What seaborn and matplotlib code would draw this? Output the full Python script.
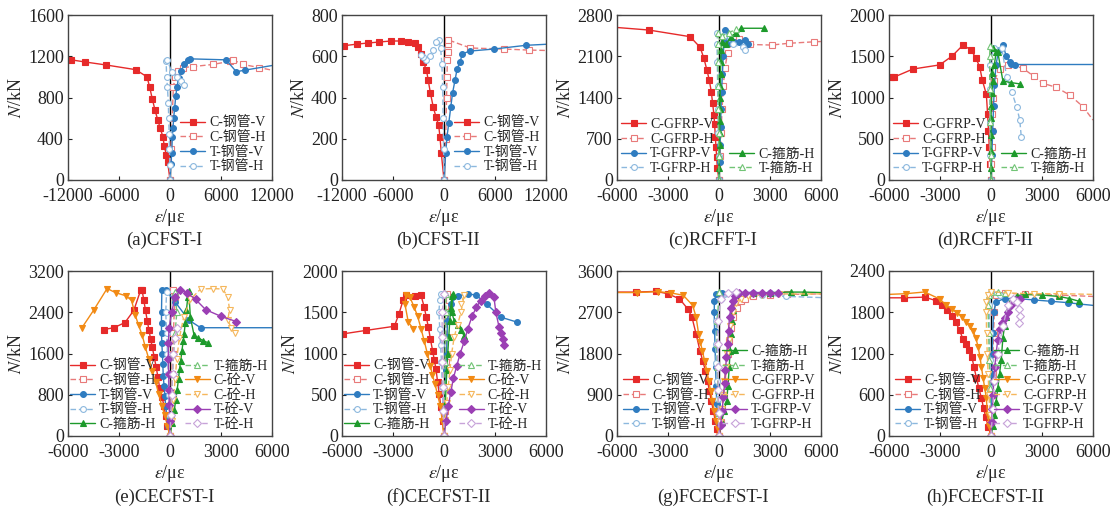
import numpy as np
import matplotlib
matplotlib.use("Agg")
import matplotlib.pyplot as plt
import seaborn as sns

# ---------------- data (strain in microstrain, load in kN) ----------------
# (a) CFST-I
a_cv_x = [0, -270, -430, -670, -820, -1140, -1450, -1770, -2080, -2390, -2700, -4040, -7490, -10040, -11600, -12000]
a_cv_y = [0, 170, 245, 325, 415, 500, 585, 680, 785, 900, 1000, 1070, 1115, 1145, 1165, 1170]
a_ch_x = [0, 100, 250, 400, 600, 900, 1500, 2700, 5000, 7000, 7400, 8600, 10500, 12000]
a_ch_y = [0, 300, 600, 900, 1000, 1060, 1090, 1100, 1120, 1150, 1165, 1120, 1090, 1065]
a_tv_x = [0, 120, 200, 275, 350, 430, 550, 670, 820, 1020, 1300, 1700, 2100, 2300, 6600, 7800, 8800, 12000]
a_tv_y = [0, 160, 260, 420, 500, 600, 700, 810, 900, 990, 1060, 1120, 1160, 1175, 1165, 1050, 1065, 1110]
a_th_x = [0, -30, -60, -100, -150, -200, -300, -400, -450, -300, 200, 800, 1300, 1700]
a_th_y = [0, 150, 300, 450, 600, 750, 900, 1000, 1150, 1160, 1050, 1000, 960, 920]

# (b) CFST-II
b_cv_x = [0, -317, -476, -635, -950, -1270, -1590, -1865, -2060, -2460, -2660, -3055, -3450, -4250, -5040, -6230, -7620, -9000, -10200, -11790, -12000]
b_cv_y = [0, 130, 210, 267, 307, 355, 420, 485, 533, 573, 611, 646, 662, 670, 674, 674, 669, 664, 659, 651, 650]
b_ch_x = [0, 200, 300, 350, 400, 450, 500, 450, 3100, 7000, 10000, 12000]
b_ch_y = [0, 200, 400, 500, 580, 620, 660, 680, 640, 635, 630, 628]
b_tv_x = [0, 200, 350, 560, 800, 1000, 1300, 1550, 1900, 2140, 3000, 5870, 9640, 12000]
b_tv_y = [0, 130, 210, 275, 355, 420, 485, 540, 573, 611, 625, 635, 653, 658]
b_th_x = [0, -50, -100, -150, -250, -400, -600, -900, -1300, -1700, -2100, -2500, -2700]
b_th_y = [0, 150, 300, 450, 560, 640, 678, 668, 630, 600, 582, 595, 605]

# (c) RCFFT-I
c_cv_x = [0, -99, -138, -178, -217, -257, -296, -375, -455, -573, -710, -890, -1107, -1700, -4130, -6000]
c_cv_y = [0, 198, 396, 566, 735, 945, 1103, 1301, 1499, 1697, 1866, 2065, 2251, 2432, 2545, 2588]
c_ch_x = [0, 60, 120, 180, 250, 350, 500, 800, 1200, 1800, 3100, 4100, 5600, 6000]
c_ch_y = [0, 400, 800, 1200, 1600, 1900, 2150, 2350, 2400, 2300, 2290, 2320, 2345, 2350]
c_tv_x = [0, 30, 60, 90, 120, 150, 200, 250, 300, 350, 400, 600, 900, 1200, 1500, 1700]
c_tv_y = [0, 300, 600, 900, 1200, 1500, 1800, 2100, 2400, 2540, 2500, 2320, 2340, 2350, 2370, 2300]
c_th_x = [0, -20, -40, -60, -80, -100, -120, -100, 300, 800, 1400, 1500]
c_th_y = [0, 400, 800, 1200, 1600, 2000, 2300, 2500, 2450, 2300, 2250, 2200]
c_gc_x = [0, 10, 20, 30, 40, 50, 60, 70, 80, 90, 100, 120, 200, 400, 700, 1000, 1300, 2650]
c_gc_y = [0, 200, 400, 600, 800, 1000, 1200, 1400, 1600, 1800, 2000, 2200, 2350, 2300, 2430, 2500, 2575, 2575]
c_gt_x = [0, -10, -20, -30, -40, -50, -60, -40, 200, 600, 1000]
c_gt_y = [0, 400, 800, 1200, 1600, 2000, 2300, 2500, 2450, 2500, 2560]

# (d) RCFFT-II
d_cv_x = [0, -50, -100, -150, -200, -275, -510, -670, -900, -1160, -1650, -2300, -3020, -4590, -5725, -5900, -6000]
d_cv_y = [0, 200, 400, 600, 800, 1040, 1210, 1375, 1480, 1575, 1635, 1500, 1395, 1345, 1245, 1244, 1240]
d_ch_x = [0, 20, 40, 60, 80, 100, 200, 500, 1000, 1860, 2500, 3060, 3840, 4630, 5410, 6000]
d_ch_y = [0, 200, 400, 600, 800, 1000, 1200, 1350, 1400, 1357, 1260, 1172, 1123, 1030, 889, 727]
d_tv_x = [0, 50, 100, 150, 200, 300, 450, 700, 900, 1100, 1200, 1400, 6000]
d_tv_y = [0, 300, 600, 900, 1150, 1400, 1580, 1636, 1500, 1430, 1410, 1400, 1400]
d_th_x = [0, -30, -50, -70, -60, 150, 630, 920, 1220, 1510, 1690, 1780]
d_th_y = [0, 300, 700, 1100, 1400, 1600, 1600, 1250, 1070, 885, 730, 525]
d_gc_x = [0, 0, 0, 0, 0, 20, 50, 100, 50, 200, 300, 100, 400, 700, 1200, 1700]
d_gc_y = [0, 150, 350, 550, 750, 900, 1050, 1200, 1300, 1400, 1550, 1600, 1550, 1200, 1180, 1165]
d_gt_x = [0, -20, -40, -60, -80, -60]
d_gt_y = [0, 300, 700, 1100, 1500, 1620]

# (e) CECFST-I
e_cv_x = [0, -150, -260, -350, -480, -610, -710, -810, -925, -1040, -1140, -1240, -1340, -1440, -1540, -1640, -1730, -2130, -2650, -3300, -3900]
e_cv_y = [0, 200, 390, 585, 760, 940, 1140, 1330, 1525, 1720, 1880, 2060, 2240, 2435, 2630, 2825, 2825, 2435, 2200, 2100, 2065]
e_ch_x = [0, 30, 60, 100, 150, 200, 250, 300, 200]
e_ch_y = [0, 400, 800, 1200, 1600, 2000, 2400, 2700, 2825]
e_tv_x = [0, -100, -180, -260, -300, -350, -400, -420, -450, -480, -500, -500, -500, -480, -250, 300, 1100, 1800, 6000]
e_tv_y = [0, 200, 400, 585, 780, 975, 1170, 1400, 1600, 1800, 2000, 2200, 2400, 2825, 2830, 2600, 2250, 2100, 2100]
e_th_x = [0, -30, -60, -100, -150, -200, -250, -200]
e_th_y = [0, 400, 800, 1200, 1600, 2000, 2400, 2800]
e_gc_x = [0, 120, 250, 340, 420, 500, 560, 630, 700, 780, 830, 900, 970, 1050, 1100, 1200, 1420, 1670, 1950, 2260]
e_gc_y = [0, 250, 500, 700, 900, 1100, 1300, 1460, 1650, 1850, 1980, 2200, 2450, 2700, 2820, 2300, 1950, 1900, 1850, 1805]
e_gt_x = [0, 50, 100, 150, 200, 300, 400, 300]
e_gt_y = [0, 400, 800, 1200, 1600, 2000, 2400, 2800]
e_sv_x = [0, -150, -300, -490, -650, -850, -1040, -1250, -1450, -1630, -1850, -2050, -2260, -2600, -3200, -3700, -4500, -5180]
e_sv_y = [0, 200, 400, 585, 810, 1040, 1265, 1500, 1720, 1950, 2150, 2350, 2630, 2720, 2780, 2860, 2435, 2100]
e_sh_x = [0, 100, 200, 300, 400, 550, 800, 1200, 1800, 2500, 3100, 3400, 3500, 3400, 3600, 3800]
e_sh_y = [0, 300, 700, 1100, 1500, 1900, 2300, 2650, 2850, 2860, 2850, 2700, 2450, 2250, 2100, 2000]
e_tsv_x = [0, -20, -40, -60, -80, -100, -100, -50, 100, 300, 600, 1000, 1500, 2100, 3000, 3900]
e_tsv_y = [0, 300, 600, 900, 1200, 1500, 1800, 2100, 2400, 2700, 2825, 2780, 2650, 2450, 2320, 2220]
e_tsh_x = [0, 50, 100, 150, 200, 300, 400]
e_tsh_y = [0, 400, 800, 1200, 1600, 1900, 2100]

# (f) CECFST-II
f_cv_x = [0, -80, -180, -280, -380, -470, -570, -670, -800, -920, -1040, -1160, -1350, -1700, -2240, -2400, -2650, -2920, -4590, -5960]
f_cv_y = [0, 180, 350, 510, 660, 810, 920, 1035, 1175, 1320, 1440, 1560, 1704, 1700, 1704, 1650, 1480, 1330, 1280, 1237]
f_ch_x = [0, 40, 80, 120, 160, 200, 260, 300, 200]
f_ch_y = [0, 300, 600, 900, 1200, 1400, 1500, 1650, 1720]
f_tv_x = [0, 30, 60, 90, 120, 150, 180, 200, 400, 800, 1400, 1880, 2500, 3350, 4300]
f_tv_y = [0, 200, 400, 600, 800, 1000, 1200, 1400, 1600, 1700, 1720, 1710, 1600, 1440, 1380]
f_th_x = [0, -50, -100, -150, -200, -250, -300, -250, -150]
f_th_y = [0, 300, 600, 900, 1100, 1300, 1500, 1650, 1720]
f_gc_x = [0, 40, 80, 120, 170, 220, 280, 340, 400, 460, 500, 450, 600, 800, 1000, 1200]
f_gc_y = [0, 200, 400, 600, 800, 1000, 1200, 1400, 1550, 1700, 1720, 1500, 1400, 1350, 1280, 1210]
f_gt_x = [0, 20, 40, 60, 80, 100, 120]
f_gt_y = [0, 300, 600, 900, 1200, 1500, 1720]
f_sv_x = [0, -100, -220, -380, -530, -680, -800, -980, -1160, -1350, -1550, -1750, -2000, -2240, -2300, -2100, -1800]
f_sv_y = [0, 180, 365, 500, 630, 740, 850, 1000, 1150, 1300, 1450, 1560, 1680, 1704, 1600, 1380, 1300]
f_sh_x = [0, 80, 160, 250, 350, 450, 600, 800, 1000, 1180, 1000]
f_sh_y = [0, 200, 400, 600, 800, 1000, 1200, 1350, 1500, 1704, 1600]
f_tsv_x = [0, 120, 250, 400, 550, 750, 950, 1200, 1400, 1650, 1900, 2150, 2400, 2650, 2940, 3050, 3240, 3350, 3450, 3530]
f_tsv_y = [0, 180, 360, 530, 700, 850, 1000, 1150, 1300, 1450, 1560, 1640, 1700, 1728, 1680, 1500, 1320, 1245, 1170, 1100]
f_tsh_x = [0, -30, -60, -90, -120, -100, 0]
f_tsh_y = [0, 300, 600, 900, 1200, 1500, 1720]

# (g) FCECFST-I
g_cv_x = [0, -100, -220, -330, -450, -570, -670, -800, -960, -1120, -1350, -1590, -1840, -2330, -3020, -3700, -4880, -6000]
g_cv_y = [0, 150, 330, 550, 770, 990, 1205, 1425, 1645, 1860, 2230, 2590, 2775, 2995, 3105, 3155, 3140, 3140]
g_ch_x = [0, 100, 200, 280, 360, 450, 520, 600, 700, 850, 1050, 1300, 1500, 2000, 3000, 4000, 6000]
g_ch_y = [0, 300, 600, 900, 1200, 1500, 1800, 2080, 2350, 2600, 2800, 2950, 3000, 3050, 3080, 3090, 3100]
g_tv_x = [0, -80, -130, -170, -200, -230, -260, -280, -270, -150, 200, 1000, 2000, 3000]
g_tv_y = [0, 300, 700, 1100, 1500, 1900, 2300, 2700, 2950, 3100, 3130, 3130, 3130, 3120]
g_th_x = [0, -40, -80, -120, -160, -200, -150, 100, 1000, 2500, 3940, 6000]
g_th_y = [0, 400, 800, 1200, 1600, 2000, 2500, 3000, 3100, 3080, 3046, 3020]
g_gc_x = [0, 150, 300, 450, 530, 600, 650, 700, 760, 800, 900, 1200, 2000, 3000, 4230, 5020, 6000]
g_gc_y = [0, 300, 550, 770, 1100, 1500, 1850, 2230, 2500, 2740, 2950, 3080, 3120, 3130, 3140, 3140, 3130]
g_gt_x = [0, -30, -60, -90, -120, -100, 0]
g_gt_y = [0, 500, 1000, 1500, 2000, 2500, 3140]
g_fv_x = [0, -80, -170, -280, -390, -500, -600, -720, -850, -980, -1100, -1200, -1350, -1550, -2100, -2800, -3600, -4800, -6000]
g_fv_y = [0, 150, 330, 550, 770, 990, 1205, 1425, 1645, 1860, 2050, 2230, 2600, 2850, 3070, 3120, 3150, 3130, 3130]
g_fh_x = [0, 80, 160, 240, 320, 400, 480, 560, 650, 800, 1000, 1300, 1700, 2500, 3500, 6000]
g_fh_y = [0, 300, 600, 900, 1200, 1500, 1800, 2100, 2400, 2700, 2900, 3000, 3050, 3080, 3100, 3100]
g_tfv_x = [0, 100, 180, 260, 330, 380, 440, 500, 560, 620, 700, 800, 950, 1150, 1500, 2000, 2500, 3000, 3450]
g_tfv_y = [0, 250, 550, 850, 1150, 1430, 1720, 2010, 2300, 2590, 2800, 2950, 3060, 3120, 3130, 3130, 3130, 3125, 3120]
g_tfh_x = [0, -20, -40, -60, -80, -60, 100, 500, 1000]
g_tfh_y = [0, 500, 1000, 1500, 2000, 2500, 3000, 3120, 3140]

# (h) FCECFST-II
h_cv_x = [0, -150, -310, -440, -570, -720, -860, -1000, -1120, -1300, -1450, -1650, -1850, -2080, -2300, -2570, -2900, -3250, -3900, -5140, -6000]
h_cv_y = [0, 130, 270, 410, 560, 700, 850, 1000, 1145, 1250, 1340, 1410, 1540, 1655, 1740, 1830, 1900, 1970, 2020, 2010, 2010]
h_ch_x = [0, 30, 60, 90, 120, 150, 200, 300, 800, 2000, 4000, 6000]
h_ch_y = [0, 300, 600, 900, 1200, 1500, 1800, 2050, 2080, 2060, 2050, 2030]
h_tv_x = [0, 20, 40, 60, 80, 100, 150, 300, 800, 1500, 2500, 3500, 4500, 5200, 6000]
h_tv_y = [0, 300, 600, 900, 1200, 1500, 1800, 1950, 2000, 2000, 1980, 1960, 1940, 1920, 1900]
h_th_x = [0, -20, -40, -60, -80, -100, 0, 500]
h_th_y = [0, 300, 700, 1100, 1500, 1900, 2100, 2050]
h_gc_x = [0, 100, 200, 300, 400, 500, 600, 700, 800, 900, 1000, 1200, 1500, 2000, 3000, 4000, 4600, 5180]
h_gc_y = [0, 150, 300, 500, 700, 900, 1100, 1430, 1600, 1730, 1850, 1980, 2040, 2060, 2050, 2030, 2000, 1960]
h_gt_x = [0, -30, -60, -100, -140, -180, -100, 0, 400, 800]
h_gt_y = [0, 300, 700, 1100, 1500, 1900, 2050, 2100, 2090, 2080]
h_fv_x = [0, -100, -200, -280, -370, -470, -560, -650, -760, -900, -1050, -1250, -1450, -1700, -2000, -2300, -2630, -3000, -3900, -5000, -6000]
h_fv_y = [0, 150, 310, 560, 700, 850, 1000, 1150, 1300, 1430, 1530, 1600, 1655, 1730, 1790, 1850, 1900, 1990, 2095, 2070, 2060]
h_fh_x = [0, -60, -120, -170, -220, -260, -280, -270, -200, 0, 1000, 2500, 4000, 6000]
h_fh_y = [0, 300, 600, 900, 1200, 1500, 1800, 1950, 2050, 2100, 2080, 2070, 2070, 2060]
h_tfv_x = [0, 40, 80, 120, 160, 220, 300, 400, 520, 650, 800, 1000, 1200, 1450, 1700]
h_tfv_y = [0, 200, 400, 600, 800, 1000, 1200, 1400, 1550, 1650, 1720, 1800, 1900, 1980, 2000]
h_tfh_x = [0, 100, 200, 400, 700, 1000, 1300, 1500, 1650, 1700, 1650]
h_tfh_y = [0, 400, 800, 1200, 1600, 1900, 2000, 1950, 1850, 1750, 1650]

captions = ["(a)CFST-I", "(b)CFST-II", "(c)RCFFT-I", "(d)RCFFT-II",
            "(e)CECFST-I", "(f)CECFST-II", "(g)FCECFST-I", "(h)FCECFST-II"]
ylims = [1600, 800, 2800, 2000, 3200, 2000, 3600, 2400]
ysteps = [400, 200, 700, 500, 800, 500, 900, 600]
xlims = [12000, 12000, 6000, 6000, 6000, 6000, 6000, 6000]

# ---------------- styles ----------------
RED, PINK = "#e62a2a", "#e87a7a"
BLUE, LBLUE = "#2f7cc0", "#8cb8de"
GREEN, LGREEN = "#1d9a2b", "#72c476"
ORANGE, LORANGE = "#f28a14", "#f5b75c"
PURPLE, LPURPLE = "#9b3fb4", "#c7a3d9"
STY = {
    "CV": (RED, "s", True), "CH": (PINK, "s", False),
    "TV": (BLUE, "o", True), "TH": (LBLUE, "o", False),
    "GC": (GREEN, "^", True), "GT": (LGREEN, "^", False),
    "SV": (ORANGE, "v", True), "SH": (LORANGE, "v", False),
    "PV": (PURPLE, "D", True), "PH": (LPURPLE, "D", False),
}

P = "钢管"
panels = [
    [("C-%s-V" % P, a_cv_x, a_cv_y, "CV"), ("C-%s-H" % P, a_ch_x, a_ch_y, "CH"),
     ("T-%s-V" % P, a_tv_x, a_tv_y, "TV"), ("T-%s-H" % P, a_th_x, a_th_y, "TH")],
    [("C-%s-V" % P, b_cv_x, b_cv_y, "CV"), ("C-%s-H" % P, b_ch_x, b_ch_y, "CH"),
     ("T-%s-V" % P, b_tv_x, b_tv_y, "TV"), ("T-%s-H" % P, b_th_x, b_th_y, "TH")],
    [("C-GFRP-V", c_cv_x, c_cv_y, "CV"), ("C-GFRP-H", c_ch_x, c_ch_y, "CH"),
     ("T-GFRP-V", c_tv_x, c_tv_y, "TV"), ("T-GFRP-H", c_th_x, c_th_y, "TH"),
     ("C-箍筋-H", c_gc_x, c_gc_y, "GC"), ("T-箍筋-H", c_gt_x, c_gt_y, "GT")],
    [("C-GFRP-V", d_cv_x, d_cv_y, "CV"), ("C-GFRP-H", d_ch_x, d_ch_y, "CH"),
     ("T-GFRP-V", d_tv_x, d_tv_y, "TV"), ("T-GFRP-H", d_th_x, d_th_y, "TH"),
     ("C-箍筋-H", d_gc_x, d_gc_y, "GC"), ("T-箍筋-H", d_gt_x, d_gt_y, "GT")],
    [("C-%s-V" % P, e_cv_x, e_cv_y, "CV"), ("C-%s-H" % P, e_ch_x, e_ch_y, "CH"),
     ("T-%s-V" % P, e_tv_x, e_tv_y, "TV"), ("T-%s-H" % P, e_th_x, e_th_y, "TH"),
     ("C-箍筋-H", e_gc_x, e_gc_y, "GC"), ("T-箍筋-H", e_gt_x, e_gt_y, "GT"),
     ("C-砼-V", e_sv_x, e_sv_y, "SV"), ("C-砼-H", e_sh_x, e_sh_y, "SH"),
     ("T-砼-V", e_tsv_x, e_tsv_y, "PV"), ("T-砼-H", e_tsh_x, e_tsh_y, "PH")],
    [("C-%s-V" % P, f_cv_x, f_cv_y, "CV"), ("C-%s-H" % P, f_ch_x, f_ch_y, "CH"),
     ("T-%s-V" % P, f_tv_x, f_tv_y, "TV"), ("T-%s-H" % P, f_th_x, f_th_y, "TH"),
     ("C-箍筋-H", f_gc_x, f_gc_y, "GC"), ("T-箍筋-H", f_gt_x, f_gt_y, "GT"),
     ("C-砼-V", f_sv_x, f_sv_y, "SV"), ("C-砼-H", f_sh_x, f_sh_y, "SH"),
     ("T-砼-V", f_tsv_x, f_tsv_y, "PV"), ("T-砼-H", f_tsh_x, f_tsh_y, "PH")],
    [("C-%s-V" % P, g_cv_x, g_cv_y, "CV"), ("C-%s-H" % P, g_ch_x, g_ch_y, "CH"),
     ("T-%s-V" % P, g_tv_x, g_tv_y, "TV"), ("T-%s-H" % P, g_th_x, g_th_y, "TH"),
     ("C-箍筋-H", g_gc_x, g_gc_y, "GC"), ("T-箍筋-H", g_gt_x, g_gt_y, "GT"),
     ("C-GFRP-V", g_fv_x, g_fv_y, "SV"), ("C-GFRP-H", g_fh_x, g_fh_y, "SH"),
     ("T-GFRP-V", g_tfv_x, g_tfv_y, "PV"), ("T-GFRP-H", g_tfh_x, g_tfh_y, "PH")],
    [("C-%s-V" % P, h_cv_x, h_cv_y, "CV"), ("C-%s-H" % P, h_ch_x, h_ch_y, "CH"),
     ("T-%s-V" % P, h_tv_x, h_tv_y, "TV"), ("T-%s-H" % P, h_th_x, h_th_y, "TH"),
     ("C-箍筋-H", h_gc_x, h_gc_y, "GC"), ("T-箍筋-H", h_gt_x, h_gt_y, "GT"),
     ("C-GFRP-V", h_fv_x, h_fv_y, "SV"), ("C-GFRP-H", h_fh_x, h_fh_y, "SH"),
     ("T-GFRP-V", h_tfv_x, h_tfv_y, "PV"), ("T-GFRP-H", h_tfh_x, h_tfh_y, "PH")],
]
# legend groups: (index range, loc, anchor)
legend_groups = [
    [((0, 4), "lower right", (0.97, 0.04))],
    [((0, 4), "lower right", (0.97, 0.04))],
    [((0, 4), "lower left", (0.02, 0.03)), ((4, 6), "lower right", (0.97, 0.03))],
    [((0, 4), "lower left", (0.02, 0.03)), ((4, 6), "lower right", (0.97, 0.03))],
    [((0, 5), "lower left", (0.01, 0.03)), ((5, 10), "lower right", (0.98, 0.03))],
    [((0, 5), "lower left", (0.01, 0.03)), ((5, 10), "lower right", (0.98, 0.03))],
    [((0, 4), "lower left", (0.03, 0.03)), ((4, 10), "lower right", (0.97, 0.03))],
    [((0, 4), "lower left", (0.03, 0.03)), ((4, 10), "lower right", (0.97, 0.03))],
]

# ---------------- figure ----------------
sns.set_style("ticks")
plt.rcParams["font.family"] = ["Liberation Serif", "Noto Sans CJK SC"]
plt.rcParams["mathtext.fontset"] = "stix"
plt.rcParams["axes.unicode_minus"] = False

W, H = 1116, 515
fig = plt.figure(figsize=(W / 100, H / 100), dpi=100)
col_left = [68, 342, 617, 889]
row_top = [15, 271]
AW, AH = 204, 165

for i in range(8):
    r, c = divmod(i, 4)
    lpx, tpx = col_left[c], row_top[r]
    ax = fig.add_axes([lpx / W, (H - tpx - AH) / H, AW / W, AH / H])
    xl = xlims[i]
    ax.axvline(0, color="black", lw=1.0, zorder=1.5)
    handles = []
    for label, xs, ys, key in panels[i]:
        col, mk, filled = STY[key]
        n = len(xs)
        me = list(range(n - 1)) if abs(xs[-1]) >= xl else None
        sns.lineplot(x=np.array(xs, float), y=np.array(ys, float), sort=False,
                     estimator=None, ax=ax, color=col,
                     linestyle="-" if filled else (0, (4, 2)), linewidth=1.0,
                     marker=mk, markersize=4.2 if mk != "D" else 3.6,
                     markerfacecolor=col if filled else "white",
                     markeredgecolor=col, markeredgewidth=0.8, markevery=me)
        ln = ax.lines[-1]
        ln.set_label(label)
        handles.append(ln)
    ax.set_xlim(-xl, xl)
    ax.set_ylim(0, ylims[i])
    ax.set_xticks(np.linspace(-xl, xl, 5))
    ax.set_xticklabels(["%d" % v for v in np.linspace(-xl, xl, 5)])
    ax.set_yticks(np.arange(0, ylims[i] + 1, ysteps[i]))
    ax.tick_params(direction="in", length=3, width=0.8, labelsize=13,
                   colors="#222222")
    ax.tick_params(axis="x", pad=6)
    ax.tick_params(axis="y", pad=3)
    for s in ax.spines.values():
        s.set_color("#444444")
        s.set_linewidth(1.0)
    ax.set_xlabel(r"$\varepsilon$/με", fontsize=13, labelpad=1)
    ax.set_ylabel(r"$N$/kN", fontsize=13, labelpad=2)
    legs = []
    for (s0, s1), loc, anc in legend_groups[i]:
        hs = handles[s0:s1]
        leg = ax.legend(hs, [h.get_label() for h in hs], loc=loc, bbox_to_anchor=anc,
                        frameon=False, fontsize=10, handlelength=1.8,
                        handletextpad=0.3, labelspacing=0.12, borderaxespad=0,
                        borderpad=0)
        legs.append(leg)
    for leg in legs[:-1]:
        ax.add_artist(leg)
    cap_y = 240 if r == 0 else 497
    fig.text((lpx + AW / 2 - 6) / W, 1 - cap_y / H, captions[i], ha="center",
             va="center", fontsize=13.5)

fig.savefig("out.png", dpi=100)
